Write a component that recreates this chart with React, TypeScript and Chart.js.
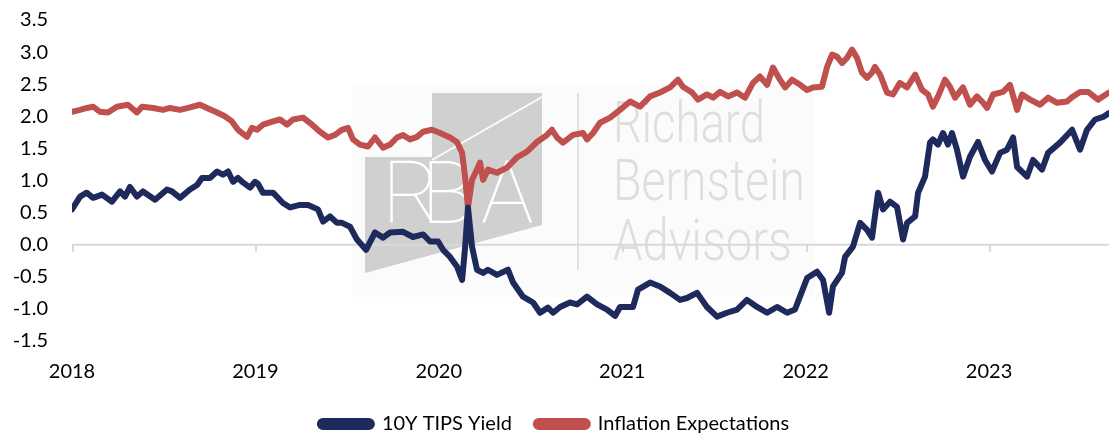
import React, { useEffect, useRef } from "react";
import { Chart, registerables } from "chart.js";

Chart.register(...registerables);

const seriesNames = ["10Y TIPS Yield", "Inflation Expectations"];
const yearTicks = [2018, 2019, 2020, 2021, 2022, 2023];
const watermarkLines = ["Richard", "Bernstein", "Advisors"];
const logoLetters = ["R", "B", "A"];

const tipsDates = [
  2018.0, 2018.044, 2018.08, 2018.115, 2018.164, 2018.218, 2018.262, 2018.289, 2018.316, 2018.354,
  2018.387, 2018.453, 2018.518, 2018.545, 2018.589, 2018.643, 2018.682, 2018.709, 2018.752, 2018.791,
  2018.823, 2018.851, 2018.878, 2018.905, 2018.932, 2018.971, 2018.998, 2019.014, 2019.041, 2019.096,
  2019.15, 2019.189, 2019.243, 2019.287, 2019.341, 2019.369, 2019.407, 2019.445, 2019.472, 2019.516,
  2019.554, 2019.603, 2019.652, 2019.696, 2019.734, 2019.805, 2019.859, 2019.914, 2019.952, 2019.996,
  2020.023, 2020.061, 2020.099, 2020.127, 2020.143, 2020.159, 2020.181, 2020.208, 2020.241, 2020.268,
  2020.317, 2020.377, 2020.405, 2020.459, 2020.514, 2020.552, 2020.595, 2020.623, 2020.661, 2020.715,
  2020.754, 2020.808, 2020.863, 2020.917, 2020.961, 2020.988, 2021.059, 2021.086, 2021.152, 2021.206,
  2021.261, 2021.315, 2021.353, 2021.408, 2021.462, 2021.517, 2021.571, 2021.626, 2021.68, 2021.735,
  2021.79, 2021.844, 2021.899, 2021.942, 2021.97, 2022.008, 2022.062, 2022.095, 2022.128, 2022.149,
  2022.198, 2022.215, 2022.258, 2022.297, 2022.335, 2022.362, 2022.395, 2022.422, 2022.46, 2022.498,
  2022.531, 2022.553, 2022.597, 2022.613, 2022.651, 2022.678, 2022.694, 2022.722, 2022.749, 2022.776,
  2022.798, 2022.825, 2022.858, 2022.896, 2022.94, 2022.978, 2023.016, 2023.06, 2023.098, 2023.131,
  2023.153, 2023.207, 2023.24, 2023.289, 2023.322, 2023.387, 2023.453, 2023.496, 2023.534, 2023.578,
  2023.622, 2023.654,
];
const tipsValues = [
  0.55, 0.75, 0.81, 0.73, 0.78, 0.67, 0.83, 0.75, 0.9, 0.75,
  0.83, 0.7, 0.86, 0.83, 0.73, 0.86, 0.93, 1.04, 1.04, 1.14,
  1.09, 1.14, 0.98, 1.04, 0.97, 0.89, 0.98, 0.95, 0.81, 0.81,
  0.65, 0.58, 0.62, 0.62, 0.55, 0.36, 0.44, 0.34, 0.34, 0.28,
  0.08, -0.08, 0.19, 0.11, 0.19, 0.2, 0.12, 0.16, 0.05, 0.05,
  -0.08, -0.19, -0.34, -0.55, -0.05, 0.58, -0.03, -0.39, -0.44, -0.39,
  -0.47, -0.39, -0.59, -0.81, -0.9, -1.06, -0.98, -1.06, -0.97, -0.9,
  -0.93, -0.81, -0.93, -1.01, -1.11, -0.97, -0.97, -0.7, -0.59, -0.65,
  -0.75, -0.86, -0.83, -0.75, -0.97, -1.12, -1.06, -1.01, -0.86, -0.97,
  -1.06, -0.97, -1.06, -1.01, -0.8, -0.52, -0.42, -0.55, -1.06, -0.65,
  -0.44, -0.19, -0.03, 0.34, 0.23, 0.11, 0.81, 0.55, 0.67, 0.59,
  0.08, 0.34, 0.44, 0.81, 1.06, 1.59, 1.64, 1.56, 1.74, 1.56,
  1.74, 1.48, 1.06, 1.37, 1.6, 1.32, 1.14, 1.43, 1.48, 1.67,
  1.21, 1.06, 1.32, 1.17, 1.43, 1.59, 1.79, 1.48, 1.79, 1.95,
  1.99, 2.05,
];

const inflDates = [
  2018.0, 2018.044, 2018.082, 2018.115, 2018.153, 2018.196, 2018.245, 2018.305, 2018.354, 2018.382,
  2018.442, 2018.496, 2018.534, 2018.589, 2018.633, 2018.698, 2018.736, 2018.791, 2018.834, 2018.872,
  2018.905, 2018.954, 2018.981, 2019.009, 2019.041, 2019.096, 2019.134, 2019.172, 2019.205, 2019.26,
  2019.309, 2019.352, 2019.396, 2019.434, 2019.472, 2019.505, 2019.532, 2019.57, 2019.614, 2019.652,
  2019.696, 2019.734, 2019.772, 2019.805, 2019.843, 2019.881, 2019.914, 2019.963, 2020.007, 2020.061,
  2020.099, 2020.127, 2020.143, 2020.159, 2020.181, 2020.208, 2020.225, 2020.241, 2020.268, 2020.317,
  2020.372, 2020.426, 2020.481, 2020.535, 2020.59, 2020.617, 2020.644, 2020.677, 2020.732, 2020.786,
  2020.808, 2020.841, 2020.879, 2020.934, 2020.988, 2021.043, 2021.097, 2021.152, 2021.206, 2021.261,
  2021.304, 2021.331, 2021.381, 2021.413, 2021.462, 2021.495, 2021.533, 2021.577, 2021.626, 2021.67,
  2021.713, 2021.751, 2021.79, 2021.822, 2021.86, 2021.888, 2021.926, 2021.97, 2022.008, 2022.04,
  2022.089, 2022.117, 2022.144, 2022.171, 2022.198, 2022.226, 2022.253, 2022.28, 2022.307, 2022.335,
  2022.362, 2022.378, 2022.406, 2022.444, 2022.476, 2022.514, 2022.553, 2022.597, 2022.635, 2022.667,
  2022.694, 2022.722, 2022.76, 2022.787, 2022.815, 2022.858, 2022.896, 2022.934, 2022.962, 2022.989,
  2023.022, 2023.076, 2023.114, 2023.153, 2023.18, 2023.224, 2023.278, 2023.322, 2023.371, 2023.425,
  2023.458, 2023.496, 2023.54, 2023.594, 2023.654,
];
const inflValues = [
  2.07, 2.1, 2.13, 2.15, 2.07, 2.06, 2.15, 2.18, 2.06, 2.15,
  2.13, 2.1, 2.13, 2.1, 2.13, 2.18, 2.13, 2.06, 2.0, 1.92,
  1.79, 1.68, 1.82, 1.79, 1.87, 1.92, 1.95, 1.87, 1.95, 1.98,
  1.87, 1.76, 1.67, 1.71, 1.79, 1.82, 1.64, 1.56, 1.53, 1.67,
  1.51, 1.56, 1.67, 1.71, 1.64, 1.68, 1.76, 1.79, 1.74, 1.67,
  1.6, 1.43, 1.06, 0.58, 1.01, 1.17, 1.28, 1.01, 1.17, 1.12,
  1.2, 1.36, 1.45, 1.6, 1.71, 1.79, 1.67, 1.59, 1.71, 1.74,
  1.64, 1.74, 1.9, 1.98, 2.1, 2.23, 2.15, 2.31, 2.37, 2.45,
  2.57, 2.46, 2.37, 2.26, 2.34, 2.29, 2.38, 2.31, 2.37, 2.29,
  2.52, 2.62, 2.49, 2.76, 2.57, 2.45, 2.57, 2.49, 2.41, 2.45,
  2.46, 2.77, 2.96, 2.93, 2.83, 2.91, 3.04, 2.91, 2.68, 2.6,
  2.68, 2.77, 2.65, 2.37, 2.34, 2.52, 2.45, 2.65, 2.41, 2.34,
  2.15, 2.31, 2.57, 2.46, 2.29, 2.45, 2.18, 2.31, 2.23, 2.13,
  2.34, 2.38, 2.49, 2.1, 2.34, 2.26, 2.18, 2.29, 2.21, 2.23,
  2.31, 2.38, 2.38, 2.26, 2.37,
];

const X_MIN = 2018;
const X_MAX = 2023.654;
const Y_MIN = -1.5;
const Y_MAX = 3.5;

const NAVY = "#1f2a5c";
const RED = "#c0504d";
const TEXT = "#000000";
const FONT = "Lato, 'Open Sans', sans-serif";

const decorPlugin = {
  id: "decor",
  beforeDatasetsDraw(chart: any) {
    const { ctx, chartArea, scales } = chart;
    const xs = scales.x;
    const ys = scales.y;
    ctx.save();

    // watermark: faint backdrop
    ctx.fillStyle = "rgba(0,0,0,0.014)";
    ctx.fillRect(352, 85, 463, 212);

    // logo block
    ctx.fillStyle = "#d0d0d0";
    ctx.beginPath();
    ctx.moveTo(432, 93);
    ctx.lineTo(542, 93);
    ctx.lineTo(542, 225);
    ctx.lineTo(365, 273);
    ctx.lineTo(365, 157);
    ctx.lineTo(432, 157);
    ctx.closePath();
    ctx.fill();

    ctx.strokeStyle = "#ffffff";
    ctx.lineWidth = 1.5;
    ctx.beginPath();
    ctx.moveTo(432, 160);
    ctx.lineTo(542, 97);
    ctx.stroke();

    ctx.fillStyle = "#ffffff";
    ctx.font = "100 88px Roboto";
    ctx.textBaseline = "alphabetic";
    ctx.textAlign = "left";
    const letterX = [382, 421, 481];
    logoLetters.forEach((l, i) => ctx.fillText(l, letterX[i], 223));

    // divider
    ctx.strokeStyle = "#dadada";
    ctx.lineWidth = 1.5;
    ctx.beginPath();
    ctx.moveTo(578, 93);
    ctx.lineTo(578, 270);
    ctx.stroke();

    // company name
    ctx.fillStyle = "#dedede";
    ctx.font = "300 58px Roboto";
    const baselines = [142, 200, 260];
    const widths = [152, 192, 179];
    watermarkLines.forEach((t, i) => {
      const w = ctx.measureText(t).width;
      ctx.save();
      ctx.translate(613, baselines[i]);
      ctx.scale(widths[i] / w, 1);
      ctx.fillText(t, 0, 0);
      ctx.restore();
    });

    // zero axis line with year tick marks
    const y0 = ys.getPixelForValue(0);
    ctx.strokeStyle = "#d9d9d9";
    ctx.lineWidth = 2;
    ctx.beginPath();
    ctx.moveTo(chartArea.left, y0);
    ctx.lineTo(chartArea.right, y0);
    yearTicks.forEach((yr) => {
      const px = Math.round(xs.getPixelForValue(yr)) + 1;
      ctx.moveTo(px, y0);
      ctx.lineTo(px, y0 + 7);
    });
    ctx.stroke();
    ctx.restore();
  },
};

export default function App() {
  const ref = useRef<HTMLCanvasElement>(null);

  useEffect(() => {
    if (!ref.current) return;
    const chart = new Chart(ref.current, {
      type: "line",
      data: {
        datasets: [
          {
            label: seriesNames[0],
            data: tipsDates.map((d, i) => ({ x: d, y: tipsValues[i] })),
            borderColor: NAVY,
            backgroundColor: NAVY,
            borderWidth: 6,
            pointRadius: 0,
            tension: 0,
            borderJoinStyle: "round",
            borderCapStyle: "round",
          },
          {
            label: seriesNames[1],
            data: inflDates.map((d, i) => ({ x: d, y: inflValues[i] })),
            borderColor: RED,
            backgroundColor: RED,
            borderWidth: 6,
            pointRadius: 0,
            tension: 0,
            borderJoinStyle: "round",
            borderCapStyle: "round",
          },
        ],
      },
      options: {
        responsive: false,
        maintainAspectRatio: false,
        animation: false,
        layout: { padding: { top: 20, left: 0, right: 0, bottom: 0 } },
        plugins: {
          legend: {
            position: "bottom",
            labels: {
              boxWidth: 52,
              boxHeight: 6,
              useBorderRadius: true,
              borderRadius: 3,
              padding: 24,
              color: TEXT,
              font: { family: FONT, size: 20 },
            },
          },
          tooltip: { enabled: false },
        },
        scales: {
          x: {
            type: "linear",
            min: X_MIN,
            max: X_MAX,
            grid: { display: false, drawTicks: false },
            border: { display: false },
            afterBuildTicks: (s: any) => {
              s.ticks = yearTicks.map((v) => ({ value: v }));
            },
            afterFit: (s: any) => {
              s.height = 49;
            },
            ticks: {
              autoSkip: false,
              maxRotation: 0,
              padding: 19,
              color: TEXT,
              font: { family: FONT, size: 20 },
              callback: (v: any) => String(v),
            },
          },
          y: {
            min: Y_MIN,
            max: Y_MAX,
            grid: { display: false, drawTicks: false },
            border: { display: false },
            afterFit: (s: any) => {
              s.width = 72;
              s.paddingTop = 0;
              s.paddingBottom = 0;
            },
            ticks: {
              stepSize: 0.5,
              padding: 24,
              color: TEXT,
              font: { family: FONT, size: 20 },
              callback: (v: any) => Number(v).toFixed(1),
            },
          },
        },
      } as any,
      plugins: [decorPlugin],
    });
    return () => chart.destroy();
  }, []);

  return (
    <div style={{ position: "fixed", left: 0, top: 0, width: 1109, height: 444, background: "#ffffff" }}>
      <canvas ref={ref} width={1109} height={444} style={{ display: "block" }} />
    </div>
  );
}
